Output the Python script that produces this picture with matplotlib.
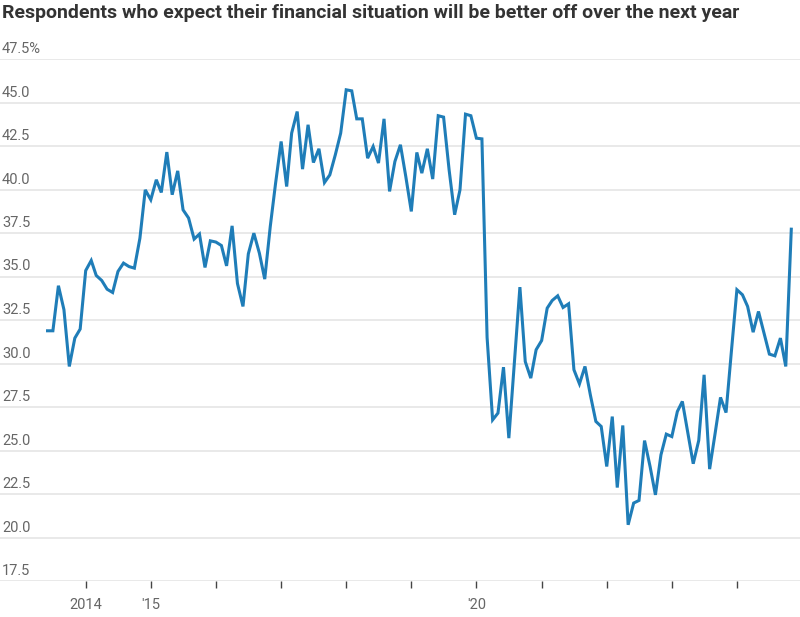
import matplotlib
matplotlib.use("Agg")
import matplotlib.pyplot as plt
import matplotlib.transforms as mtransforms
import pandas as pd
from matplotlib import font_manager

# ---- data ----
start_month = "2013-06-01"
values = [
    31.88, 31.88, 34.47, 33.09, 29.83, 31.46, 31.98, 35.34, 35.92, 35.06,
    34.77, 34.27, 34.08, 35.29, 35.77, 35.57, 35.48, 37.20, 39.98, 39.41,
    40.56, 39.83, 42.15, 39.70, 41.07, 38.83, 38.36, 37.15, 37.44, 35.52,
    37.05, 36.98, 36.78, 35.61, 37.91, 34.60, 33.28, 36.30, 37.49, 36.34,
    34.85, 37.87, 40.37, 42.76, 40.17, 43.24, 44.48, 41.17, 43.72, 41.55,
    42.34, 40.40, 40.84, 42.00, 43.24, 45.73, 45.67, 44.06, 44.06, 41.80,
    42.47, 41.52, 44.06, 39.89, 41.61, 42.57, 40.75, 38.74, 42.13, 40.94,
    42.34, 40.60, 44.24, 44.16, 41.13, 38.55, 39.98, 44.33, 44.24, 42.95,
    42.91, 31.50, 26.76, 27.15, 29.79, 25.71, 30.02, 34.39, 30.11, 29.16,
    30.79, 31.32, 33.18, 33.62, 33.89, 33.22, 33.43, 29.64, 28.83, 29.83,
    28.20, 26.67, 26.38, 24.08, 26.95, 22.87, 26.44, 20.73, 21.98, 22.13,
    25.57, 24.08, 22.45, 24.75, 25.94, 25.80, 27.24, 27.82, 26.00, 24.24,
    25.58, 29.35, 23.93, 26.00, 28.05, 27.18, 30.69, 34.24, 33.95, 33.28,
    31.80, 32.99, 31.75, 30.54, 30.44, 31.46, 29.83, 37.72,
]
dates = pd.date_range(start_month, periods=len(values), freq="MS")

y_ticks = [17.5, 20.0, 22.5, 25.0, 27.5, 30.0, 32.5, 35.0, 37.5, 40.0, 42.5, 45.0, 47.5]
y_tick_labels = ["17.5", "20.0", "22.5", "25.0", "27.5", "30.0", "32.5", "35.0",
                 "37.5", "40.0", "42.5", "45.0", "47.5%"]
x_tick_years = list(range(2014, 2025))
x_tick_text = {2014: "2014", 2015: "'15", 2020: "'20"}

title = "Respondents who expect their financial situation will be better off over the next year"

# ---- fonts ----
names = {f.name for f in font_manager.fontManager.ttflist}
narrow = "Liberation Sans Narrow" if "Liberation Sans Narrow" in names else "Roboto"
fam = [narrow, "DejaVu Sans"]

W, H = 800, 617
fig = plt.figure(figsize=(W / 100, H / 100), dpi=100)
top_px, bot_px = 59, 581
ax = fig.add_axes([0, 1 - bot_px / H, 1, (bot_px - top_px) / H])

line_color = "#1f7db8"
ax.plot(dates, values, color=line_color, lw=2.2, solid_joinstyle="miter", zorder=3)

ax.set_ylim(17.5, 47.5)
t2014 = pd.Timestamp("2014-01-01")
days_per_px = 365.25 / 65.13
left = t2014 - pd.Timedelta(days=85.7 * days_per_px)
right = t2014 + pd.Timedelta(days=(W - 85.7) * days_per_px)
ax.set_xlim(left, right)

for s in ax.spines.values():
    s.set_visible(False)

for yv in y_ticks:
    ax.axhline(yv, color="#e9e9e9", lw=1.4, zorder=1)

ax.set_yticks([])
trans = mtransforms.blended_transform_factory(fig.transFigure, ax.transData)
offset = mtransforms.ScaledTranslation(0, 3 / 100, fig.dpi_scale_trans)
for yv, lab in zip(y_ticks, y_tick_labels):
    ax.text(2 / W, yv, lab, transform=trans + offset, ha="left", va="bottom",
            fontsize=10.5, color="#666666", family=fam)

tick_dates = [pd.Timestamp(f"{y}-01-01") for y in x_tick_years]
ax.set_xticks(tick_dates)
ax.set_xticklabels([x_tick_text.get(y, "") for y in x_tick_years],
                   fontsize=10.5, color="#666666", family=fam)
ax.tick_params(axis="x", length=5, width=1, color="#444444", pad=7)
ax.tick_params(axis="y", length=0)

fig.text(2 / W, 1 - 13 / H, title, ha="left", va="center", fontsize=14,
         fontweight="bold", color="#333333", family=fam)

fig.savefig("out.png", dpi=100, facecolor="white")
